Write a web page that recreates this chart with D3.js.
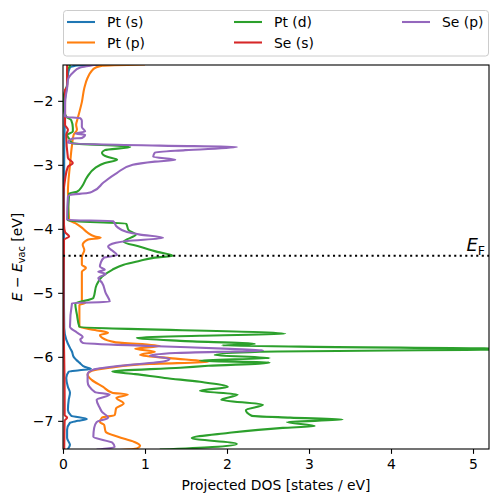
<!DOCTYPE html>
<html><head><meta charset="utf-8">
<script src="https://cdn.jsdelivr.net/npm/d3@7/dist/d3.min.js"></script>
<style>
body{margin:0;background:#fff}
svg{display:block}
text{font-family:"DejaVu Sans",sans-serif;fill:#000}
</style>
</head><body>
<svg id="chart" width="498" height="502"></svg>
<script>
// ---- data: [energy (eV), projected DOS (states/eV)] ----
const ptS = [[-1.42,1.05],[-1.45,0.15],[-1.48,0.085],[-1.59,0.06],[-1.75,0.05],[-1.98,0.025],[-3.55,0.012],[-5.11,0.012],[-5.55,0.015],[-5.73,0.04],[-5.86,0.085],[-5.92,0.11],[-6.0,0.13],[-6.09,0.2],[-6.16,0.27],[-6.19,0.34],[-6.21,0.2],[-6.23,0.07],[-6.33,0.04],[-6.47,0.06],[-6.56,0.085],[-6.67,0.07],[-6.83,0.06],[-6.92,0.1],[-6.97,0.29],[-7.0,0.18],[-7.03,0.085],[-7.14,0.05],[-7.27,0.05],[-7.375,0.085],[-7.44,0.06],[-7.47,0.04]];
const ptP = [[-1.43,1.0],[-1.45,0.48],[-1.48,0.40],[-1.55,0.34],[-1.64,0.30],[-1.80,0.26],[-2.02,0.23],[-2.27,0.18],[-2.375,0.16],[-2.45,0.17],[-2.53,0.13],[-2.69,0.11],[-3.0,0.085],[-3.42,0.06],[-3.86,0.075],[-3.91,0.15],[-3.98,0.23],[-4.06,0.30],[-4.12,0.39],[-4.14,0.46],[-4.17,0.30],[-4.25,0.24],[-4.33,0.26],[-4.44,0.23],[-4.56,0.23],[-4.61,0.28],[-4.67,0.23],[-4.72,0.23],[-5.11,0.23],[-5.16,0.27],[-5.19,0.2],[-5.53,0.2],[-5.58,0.39],[-5.625,0.55],[-5.66,0.45],[-5.70,0.475],[-5.77,0.63],[-5.83,1.18],[-5.875,0.88],[-5.92,1.12],[-5.97,0.94],[-6.02,1.3],[-6.08,1.77],[-6.11,1.06],[-6.17,0.57],[-6.22,0.35],[-6.28,0.30],[-6.36,0.35],[-6.47,0.49],[-6.56,0.6],[-6.59,0.79],[-6.64,0.65],[-6.73,0.74],[-6.80,0.65],[-6.91,0.63],[-6.95,0.475],[-7.02,0.45],[-7.06,0.5],[-7.17,0.52],[-7.25,0.67],[-7.33,0.87],[-7.39,0.94],[-7.43,0.9],[-7.46,0.65]];
const ptD = [[-1.42,0.05],[-1.45,0.085],[-1.52,0.05],[-1.75,0.05],[-1.91,0.012],[-2.14,0.012],[-2.25,0.04],[-2.30,0.1],[-2.42,0.12],[-2.48,0.12],[-2.53,0.05],[-2.61,0.085],[-2.66,0.11],[-2.72,0.82],[-2.77,0.51],[-2.81,0.475],[-2.875,0.54],[-2.92,0.66],[-2.97,0.51],[-3.05,0.39],[-3.2,0.29],[-3.34,0.23],[-3.42,0.17],[-3.45,0.075],[-3.875,0.06],[-3.92,0.77],[-4.02,0.8],[-4.09,0.89],[-4.20,0.74],[-4.28,0.94],[-4.36,1.15],[-4.42,1.34],[-4.45,1.12],[-4.5,0.94],[-4.56,0.74],[-4.64,0.6],[-4.75,0.475],[-4.875,0.41],[-5.08,0.37],[-5.17,0.15],[-5.34,0.17],[-5.53,0.2],[-5.64,2.71],[-5.67,1.67],[-5.70,0.9],[-5.75,1.43],[-5.80,2.34],[-5.82,1.94],[-5.84,2.89],[-5.88,5.6],[-5.92,2.4],[-5.97,1.85],[-6.02,2.52],[-6.06,1.67],[-6.09,2.52],[-6.14,1.77],[-6.17,1.43],[-6.23,0.6],[-6.27,0.88],[-6.33,1.24],[-6.39,1.67],[-6.47,2.01],[-6.53,1.67],[-6.59,2.13],[-6.67,1.93],[-6.75,2.44],[-6.83,2.23],[-6.92,2.3],[-6.95,2.77],[-6.98,3.41],[-7.02,2.73],[-7.08,3.07],[-7.11,2.68],[-7.19,2.01],[-7.27,1.57],[-7.36,2.12],[-7.41,1.82],[-7.45,1.18]];
const seS = [[-1.42,0.05],[-1.78,0.05],[-1.83,0.025],[-2.375,0.025],[-2.45,0.06],[-2.53,0.04],[-2.89,0.06],[-2.97,0.12],[-3.03,0.06],[-3.23,0.025],[-3.47,0.006],[-3.94,0.012],[-4.05,0.025],[-4.12,0.075],[-4.17,0.012],[-5.11,0.006],[-6.67,0.02],[-6.91,0.02],[-6.95,0.05],[-7.0,0.02],[-7.45,0.015]];
const seP = [[-1.42,0.45],[-1.45,0.33],[-1.48,0.21],[-1.56,0.12],[-1.67,0.06],[-1.8,0.05],[-2.02,0.025],[-2.25,0.025],[-2.27,0.21],[-2.31,0.23],[-2.41,0.23],[-2.48,0.27],[-2.51,0.15],[-2.53,0.27],[-2.58,0.23],[-2.59,0.11],[-2.66,0.06],[-2.70,1.18],[-2.72,2.12],[-2.77,1.49],[-2.81,1.12],[-2.875,1.10],[-2.92,1.37],[-2.95,1.12],[-3.0,0.85],[-3.125,0.66],[-3.28,0.49],[-3.41,0.37],[-3.44,0.30],[-3.47,0.085],[-3.5,0.06],[-3.86,0.05],[-3.88,0.61],[-3.97,0.66],[-4.05,0.78],[-4.09,0.94],[-4.14,1.22],[-4.19,0.78],[-4.25,0.57],[-4.28,0.55],[-4.34,0.6],[-4.41,0.66],[-4.45,0.5],[-4.53,0.46],[-4.59,0.45],[-4.64,0.51],[-4.67,0.43],[-4.70,0.52],[-4.77,0.43],[-4.84,0.475],[-5.0,0.52],[-5.14,0.57],[-5.16,0.11],[-5.53,0.085],[-5.62,0.17],[-5.69,0.24],[-5.73,0.21],[-5.78,0.24],[-5.83,1.06],[-5.875,2.04],[-5.9,2.44],[-5.94,1.37],[-5.98,1.06],[-6.03,1.3],[-6.07,1.24],[-6.14,0.7],[-6.2,0.37],[-6.27,0.30],[-6.39,0.30],[-6.55,0.39],[-6.59,0.57],[-6.67,0.41],[-6.80,0.45],[-6.86,0.475],[-6.95,0.55],[-7.02,0.41],[-7.11,0.38],[-7.25,0.37],[-7.34,0.6],[-7.41,0.63],[-7.45,0.41]];

const seriesNames = ["Pt (s)","Pt (p)","Pt (d)","Se (s)","Se (p)"];
const seriesData = [ptS, ptP, ptD, seS, seP];
const seriesColors = ["#1f77b4","#ff7f0e","#2ca02c","#d62728","#9467bd"];
const xTicks = [0,1,2,3,4,5];
const yTicks = [-7,-6,-5,-4,-3,-2];
const xDomain = [0, 5.195];
const yDomain = [-7.44, -1.44];
const fermiLevel = -4.42;

// ---- layout ----
const L = 63, R = 489, T = 65, B = 449;
const FS = 13.9;
const svg = d3.select("#chart");
const x = d3.scaleLinear().domain(xDomain).range([L, R]);
const y = d3.scaleLinear().domain(yDomain).range([B, T]);

svg.append("defs").append("clipPath").attr("id","plotclip")
  .append("rect").attr("x",L).attr("y",T).attr("width",R-L).attr("height",B-T);

const plot = svg.append("g").attr("clip-path","url(#plotclip)");
const line = d3.line().x(d => x(d[1])).y(d => y(d[0])).curve(d3.curveMonotoneY);
seriesData.forEach((s,i) => {
  plot.append("path").datum(s).attr("d", line)
    .attr("fill","none").attr("stroke", seriesColors[i])
    .attr("stroke-width",2.08).attr("stroke-linejoin","round").attr("stroke-linecap","butt");
});

// Fermi level
plot.append("line").attr("x1",L).attr("x2",R).attr("y1",y(fermiLevel)).attr("y2",y(fermiLevel))
  .attr("stroke","#000").attr("stroke-width",2.08).attr("stroke-dasharray","2.08,3.43");

const ef = svg.append("text").attr("x",R-4).attr("y",y(fermiLevel)-5).attr("text-anchor","end")
  .style("font-size","18px");
ef.append("tspan").attr("font-style","italic").text("E");
ef.append("tspan").attr("dy","4").style("font-size","12.6px").text("F");

// axes
const xAxis = d3.axisBottom(x).tickValues(xTicks).tickSize(4.86).tickPadding(4.86).tickFormat(d3.format("d"));
const yAxis = d3.axisLeft(y).tickValues(yTicks).tickSize(4.86).tickPadding(4.86).tickFormat(d => d < 0 ? "\u2212" + Math.abs(d) : d);
const gx = svg.append("g").attr("transform",`translate(0,${B})`).call(xAxis);
const gy = svg.append("g").attr("transform",`translate(${L},0)`).call(yAxis);
[gx,gy].forEach(g => {
  g.select(".domain").remove();
  g.selectAll("line").attr("stroke","#000").attr("stroke-width",1.1);
  g.selectAll("text").style("font-size",FS+"px").attr("font-family","DejaVu Sans");
});
svg.append("rect").attr("x",L).attr("y",T).attr("width",R-L).attr("height",B-T)
  .attr("fill","none").attr("stroke","#000").attr("stroke-width",1.1);

// axis labels
svg.append("text").attr("x",(L+R)/2).attr("y",490).attr("text-anchor","middle")
  .style("font-size",FS+"px").text("Projected DOS [states / eV]");
const yl = svg.append("text").attr("transform",`translate(22,${(T+B)/2}) rotate(-90)`)
  .attr("text-anchor","middle").style("font-size",FS+"px");
yl.append("tspan").attr("font-style","italic").text("E");
yl.append("tspan").text(" \u2212 ");
yl.append("tspan").attr("font-style","italic").text("E");
yl.append("tspan").attr("dy","3").style("font-size","9.7px").text("vac");
yl.append("tspan").attr("dy","-3").text(" [eV]");

// legend
const lg = svg.append("g");
lg.append("rect").attr("x",63.5).attr("y",10.5).attr("width",425).attr("height",45.5).attr("rx",3)
  .attr("fill","#fff").attr("fill-opacity",0.8).attr("stroke","#cccccc").attr("stroke-width",1);
const colX = [67, 234, 402];
const rowY = [22, 42.5];
seriesNames.forEach((n,i) => {
  const c = Math.floor(i/2), r = i%2;
  lg.append("line").attr("x1",colX[c]).attr("x2",colX[c]+28).attr("y1",rowY[r]).attr("y2",rowY[r])
    .attr("stroke",seriesColors[i]).attr("stroke-width",2.08);
  lg.append("text").attr("x",colX[c]+40).attr("y",rowY[r]+5).style("font-size",FS+"px").text(n);
});
</script>
</body></html>
